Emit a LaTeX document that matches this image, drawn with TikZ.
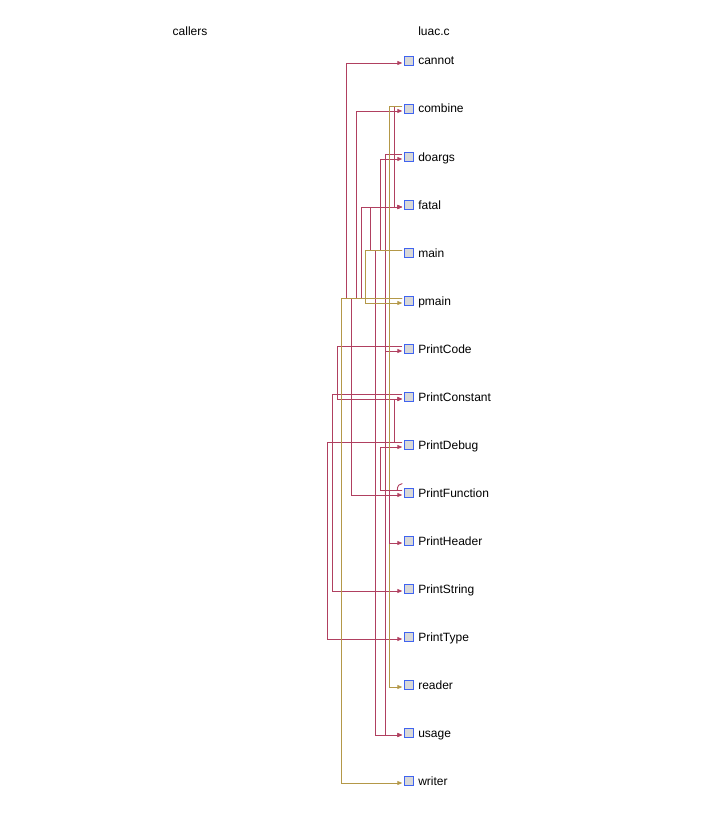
\documentclass[tikz,border=0pt]{standalone}
\usepackage{fontspec}
\setmainfont{Liberation Sans}
\usetikzlibrary{positioning,arrows.meta}

\definecolor{callred}{RGB}{176,64,96}
\definecolor{refgold}{RGB}{180,152,72}
\definecolor{boxblue}{RGB}{64,100,240}
\definecolor{boxgray}{RGB}{216,216,216}

\tikzset{
  fnbox/.style={draw=boxblue, fill=boxgray, line width=0.9pt, minimum size=9pt, inner sep=0pt, outer sep=2pt},
  fnlabel/.style={inner sep=0pt, outer sep=0pt, anchor=west, text height=10pt, text depth=1pt, font=\fontsize{12}{14}\selectfont},
  call/.style={callred, line width=0.9pt, ->},
  fnref/.style={refgold, line width=0.9pt, ->},
}

\begin{document}
\begin{tikzpicture}[x=1pt, y=-1pt, >={Triangle[length=5pt,width=4pt]}, line cap=butt, line join=miter]
  \useasboundingbox (0,0) rectangle (720,813);

  % Column heads
  \node[fnlabel, anchor=center] (callers) at (190, 31) {callers};
  \node[fnlabel, anchor=center] (file) at (434, 31) {luac.c};

  % Functions of luac.c
  \foreach \fn [count=\i from 0] in {cannot,combine,doargs,fatal,main,pmain,PrintCode,PrintConstant,PrintDebug,PrintFunction,PrintHeader,PrintString,PrintType,reader,usage,writer} {
    \node[fnbox] (\fn) at (408.8, 60.5+48*\i) {};
    \node[fnlabel, right=3pt of \fn] (\fn-name) {\fn};
  }

  % Calls (out 2.5 above centre, in 2.5 below)
  \draw[call] ([yshift=2.5pt]pmain.west) -- ++(-56,0) |- ([yshift=-2.5pt]cannot.west);
  \draw[call] ([yshift=2.5pt]pmain.west) -- ++(-46,0) |- ([yshift=-2.5pt]combine.west);
  \draw[call] ([yshift=2.5pt]pmain.west) -- ++(-41,0) |- ([yshift=-2.5pt]fatal.west);
  \draw[call] ([yshift=2.5pt]pmain.west) -- ++(-51,0) |- ([yshift=-2.5pt]PrintFunction.west);
  \draw[call] ([yshift=2.5pt]combine.west) -- ++(-8,0) |- ([yshift=-2.5pt]fatal.west);
  \draw[call] ([yshift=2.5pt]main.west) -- ++(-32,0) |- ([yshift=-2.5pt]fatal.west);
  \draw[call] ([yshift=2.5pt]main.west) -- ++(-22,0) |- ([yshift=-2.5pt]doargs.west);
  \draw[call] ([yshift=2.5pt]main.west) -- ++(-27,0) |- ([yshift=-2.5pt]usage.west);
  \draw[call] ([yshift=2.5pt]doargs.west) -- ++(-17,0) |- ([yshift=-2.5pt]usage.west);
  \draw[call] ([yshift=2.5pt]PrintCode.west) -- ++(-65,0) |- ([yshift=-2.5pt]PrintConstant.west);
  \draw[call] ([yshift=2.5pt]PrintConstant.west) -- ++(-70,0) |- ([yshift=-2.5pt]PrintString.west);
  \draw[call] ([yshift=2.5pt]PrintDebug.west) -- ++(-75,0) |- ([yshift=-2.5pt]PrintType.west);
  \draw[call] ([yshift=2.5pt]PrintDebug.west) -- ++(-8,0) |- ([yshift=-2.5pt]PrintConstant.west);
  \draw[call] ([yshift=2.5pt]PrintFunction.west) -- ++(-22,0) |- ([yshift=-2.5pt]PrintDebug.west);
  \draw[call] ([yshift=2.5pt]PrintFunction.west) -- ++(-17,0) |- ([yshift=-2.5pt]PrintCode.west);

  % Function references
  \draw[fnref] ([yshift=2.5pt]combine.west) -- ++(-13,0) |- ([yshift=-2.5pt]reader.west);
  \draw[fnref] ([yshift=2.5pt]main.west) -- ++(-37,0) |- ([yshift=-2.5pt]pmain.west);
  \draw[fnref] ([yshift=2.5pt]pmain.west) -- ++(-61,0) |- ([yshift=-2.5pt]writer.west);

  \draw[call] ([yshift=2.5pt]PrintFunction.west) -- ++(-13,0) |- ([yshift=-2.5pt]PrintHeader.west);
  % Recursion
  \draw[callred, line width=0.9pt] ([xshift=-5pt, yshift=2.5pt]PrintFunction.west) .. controls +(0,-4) and +(-3,0) .. ([yshift=9pt]PrintFunction.west);
\end{tikzpicture}
\end{document}
